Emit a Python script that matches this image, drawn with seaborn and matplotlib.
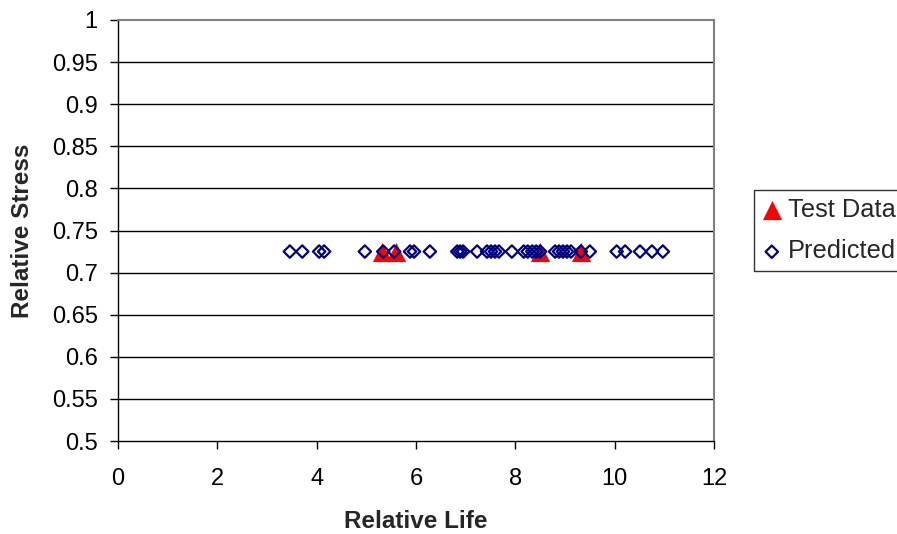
import matplotlib
matplotlib.use("Agg")
import matplotlib.pyplot as plt
import seaborn as sns
import pandas as pd

# values
test_life = [5.32, 5.6, 8.5, 9.32]
test_stress = [0.725, 0.725, 0.725, 0.725]

pred_life = [3.46, 3.71, 4.05, 4.15, 4.97, 5.34, 5.56, 5.88, 5.96, 6.28,
             6.83, 6.89, 6.95, 7.23, 7.43, 7.51, 7.59, 7.67, 7.93, 8.17,
             8.25, 8.34, 8.42, 8.50, 8.80, 8.88, 8.96, 9.04, 9.12, 9.32,
             9.50, 10.04, 10.21, 10.51, 10.75, 10.97]
pred_stress = [0.725] * len(pred_life)

x_ticks = [0, 2, 4, 6, 8, 10, 12]
y_ticks = [0.5, 0.55, 0.6, 0.65, 0.7, 0.75, 0.8, 0.85, 0.9, 0.95, 1]
y_tick_labels = ["0.5", "0.55", "0.6", "0.65", "0.7", "0.75", "0.8", "0.85", "0.9", "0.95", "1"]

sns.set_theme(style="white")
plt.rcParams['font.family'] = ['Liberation Sans', 'DejaVu Sans']

test_df = pd.DataFrame({'life': test_life, 'stress': test_stress})
pred_df = pd.DataFrame({'life': pred_life, 'stress': pred_stress})

fig = plt.figure(figsize=(8.97, 5.34), dpi=100)
ax = fig.add_axes([118 / 897, 93 / 534, 596 / 897, 421 / 534])

# gridlines under the marks
for y in y_ticks[1:-1]:
    ax.axhline(y, color='black', lw=1, zorder=1)

sns.scatterplot(data=test_df, x='life', y='stress', ax=ax, marker='^', s=190,
                color='#ff0000', edgecolor='#ff0000', linewidth=0, label='Test Data', zorder=2)
sns.scatterplot(data=pred_df, x='life', y='stress', ax=ax, marker='D', s=40,
                facecolor='none', edgecolor='#000080', linewidth=1.6, label='Predicted', zorder=3)

ax.set_xlim(0, 12)
ax.set_ylim(0.5, 1)
ax.set_xticks(x_ticks)
ax.set_yticks(y_ticks)
ax.set_yticklabels(y_tick_labels)
ax.tick_params(axis='both', direction='out', length=6, width=1, color='black',
               labelsize=17, labelcolor='black')
ax.tick_params(axis='x', pad=13.5)
ax.tick_params(axis='y', pad=8.5)
ax.xaxis.set_ticks_position('bottom')
ax.yaxis.set_ticks_position('left')

for side in ['left', 'bottom']:
    ax.spines[side].set_color('black')
    ax.spines[side].set_linewidth(1)
for side in ['top', 'right']:
    ax.spines[side].set_color('#808080')
    ax.spines[side].set_linewidth(1.5)

ax.set_xlabel('Relative Life', fontsize=17.5, fontweight='bold', va='center')
ax.set_ylabel('Relative Stress', fontsize=17.5, fontweight='bold', va='center')
ax.xaxis.set_label_coords(0.5, (441 - 521) / 421)
ax.yaxis.set_label_coords((23 - 118) / 596, 0.5)

# legend box runs past the right edge, as in the reference
leg = ax.legend(loc='upper left', bbox_to_anchor=(754 / 897, (534 - 190) / 534),
                bbox_transform=fig.transFigure, frameon=True, fancybox=False,
                fontsize=18.3, handletextpad=0.25, borderpad=0.3, labelspacing=0.7,
                handlelength=0.8, borderaxespad=0)
leg.get_frame().set_edgecolor('black')
leg.get_frame().set_linewidth(1)

fig.savefig('out.png', dpi=100)
